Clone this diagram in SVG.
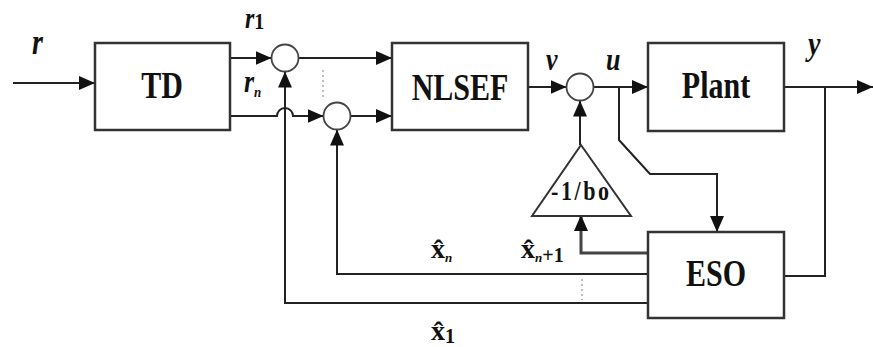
<svg xmlns="http://www.w3.org/2000/svg" width="873" height="347" viewBox="0 0 873 347">
<style>
.box{fill:#fff;stroke:#333;stroke-width:2.5}
.sum{fill:#fff;stroke:#444;stroke-width:1.8}
.ln{fill:none;stroke:#222;stroke-width:2}
.dot{fill:none;stroke:#aaa;stroke-width:1.5;stroke-dasharray:2,3}
.bl{font-family:"Liberation Serif","Times New Roman",serif;font-weight:bold;fill:#111}
.var{font-family:"Liberation Serif","Times New Roman",serif;font-weight:bold;font-style:italic;fill:#111}
.up{font-family:"Liberation Serif","Times New Roman",serif;font-weight:bold;fill:#111}
</style>
<defs>
<marker id="ah" viewBox="0 0 16 14" refX="16" refY="7" markerWidth="16" markerHeight="14" markerUnits="userSpaceOnUse" orient="auto">
<path d="M0,0 L16,7 L0,14 z" fill="#111"/>
</marker>
</defs>
<g id="connectors">
<path class="ln" d="M13,83 H95" marker-end="url(#ah)"/>
<path class="ln" d="M230,58 H271.5" marker-end="url(#ah)"/>
<path class="ln" d="M230,116 H277 A8,8 0 0 1 293,116 H323.5" marker-end="url(#ah)"/>
<path class="ln" d="M298.5,58 H392" marker-end="url(#ah)"/>
<path class="ln" d="M350.5,116 H392" marker-end="url(#ah)"/>
<path class="ln" d="M528,87 H566.5" marker-end="url(#ah)"/>
<path class="ln" d="M593.5,87 H648" marker-end="url(#ah)"/>
<path class="ln" d="M784,87 H873" marker-end="url(#ah)"/>
<path class="ln" d="M825,87 V276 H784"/>
<path class="ln" d="M619,87 V140 L650,174 H717 V232" marker-end="url(#ah)"/>
<path class="ln" d="M648,253 H581 V215" style="stroke:#444;stroke-width:3" marker-end="url(#ah)"/>
<path class="ln" d="M580,145 V100.5" marker-end="url(#ah)"/>
<path class="ln" d="M648,274 H337 V129.5" marker-end="url(#ah)"/>
<path class="ln" d="M648,303 H285 V71.5" marker-end="url(#ah)"/>
<path class="dot" d="M323,70 V97"/>
<path class="dot" d="M582,279 V300"/>
</g>
<g id="TD">
<rect class="box" x="95" y="43" width="135" height="87"/>
<text class="bl" font-size="30" text-anchor="middle" transform="matrix(1,0,0,1.25,162,98)">TD</text>
</g>
<g id="sum1"><circle class="sum" cx="285" cy="58" r="13.5"/></g>
<g id="sum2"><circle class="sum" cx="337" cy="116" r="13.5"/></g>
<g id="NLSEF">
<rect class="box" x="392" y="43" width="136" height="87"/>
<text class="bl" font-size="30" text-anchor="middle" transform="matrix(1,0,0,1.25,460,100)">NLSEF</text>
</g>
<g id="sum3"><circle class="sum" cx="580" cy="87" r="13.5"/></g>
<g id="Plant">
<rect class="box" x="648" y="43" width="136" height="88"/>
<text class="bl" font-size="30" text-anchor="middle" transform="matrix(1,0,0,1.25,716,98)">Plant</text>
</g>
<g id="ESO">
<rect class="box" x="648" y="232" width="136" height="86"/>
<text class="bl" font-size="30" text-anchor="middle" transform="matrix(1,0,0,1.25,716,286)">ESO</text>
</g>
<g id="gain">
<polygon class="box" points="581,145 631,216 532,216" style="stroke-width:2"/>
<text class="bl" font-size="22" text-anchor="middle" textLength="58" lengthAdjust="spacing" transform="matrix(1,0,0,1.25,580,200)">-1/bo</text>
</g>
<g id="labels">
<text class="var" font-size="28" transform="matrix(1,0,0,1.25,32,54)">r</text>
<text class="var" font-size="24" transform="matrix(1,0,0,1.2,245,28)">r<tspan class="up" font-style="normal" font-size="20" dy="1">1</tspan></text>
<text class="var" font-size="26" transform="matrix(1,0,0,1.2,244,92)">r<tspan font-size="13" dy="4">n</tspan></text>
<text class="var" font-size="26" transform="matrix(1,0,0,1.2,546,70)">v</text>
<text class="var" font-size="26" transform="matrix(1,0,0,1.2,606,70)">u</text>
<text class="var" font-size="28" transform="matrix(1,0,0,1.2,808,55)">y</text>
<text class="up" font-size="28" x="431" y="258">x&#x0302;<tspan class="var" font-size="13" dy="4">n</tspan></text>
<text class="up" font-size="28" x="521" y="258">x&#x0302;<tspan class="var" font-size="13" dy="4">n</tspan><tspan font-size="20" dy="0">+1</tspan></text>
<text class="up" font-size="28" x="431" y="340">x&#x0302;<tspan font-size="20" dy="3">1</tspan></text>
</g>
</svg>
